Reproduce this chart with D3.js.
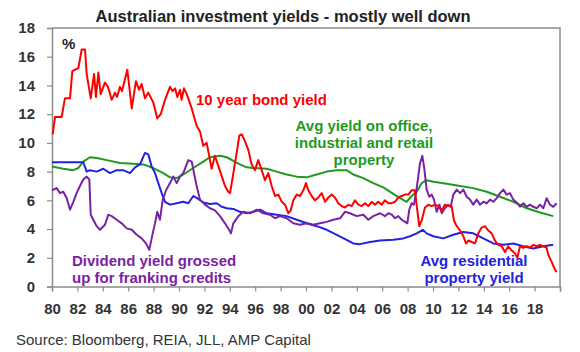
<!DOCTYPE html>
<html>
<head>
<meta charset="utf-8">
<script src="https://cdn.jsdelivr.net/npm/d3@7"></script>
<style>
  body { margin: 0; background: #fff; }
  svg { display: block; font-family: "Liberation Sans", Arial, sans-serif; }
</style>
</head>
<body>
<svg id="chart" width="580" height="352"></svg>
<script>
// [year, %]
const bondYield = [
  [1980.05, 10.6], [1980.24, 11.8], [1980.76, 11.8], [1981.02, 13.1], [1981.42, 13.1],
  [1981.6, 15.0], [1982.07, 15.2], [1982.34, 16.5], [1982.6, 16.5], [1982.73, 14.8],
  [1983.05, 13.1], [1983.31, 14.8], [1983.46, 13.2], [1983.65, 14.9], [1983.83, 13.4],
  [1984.17, 14.2], [1984.41, 13.9], [1984.7, 13.0], [1984.96, 13.5], [1985.12, 13.2],
  [1985.35, 13.9], [1985.51, 13.6], [1985.93, 15.1], [1986.28, 12.4], [1986.61, 14.3],
  [1986.85, 13.7], [1987.06, 14.1], [1987.32, 13.1], [1987.58, 13.5], [1987.98, 12.8],
  [1988.29, 11.7], [1988.56, 12.0], [1988.9, 13.0], [1989.29, 13.9], [1989.5, 13.6],
  [1989.69, 13.8], [1989.87, 13.2], [1990.08, 13.7], [1990.21, 13.0], [1990.39, 13.8],
  [1990.61, 13.4], [1991.0, 12.4], [1991.39, 11.2], [1991.65, 10.8], [1991.91, 9.8],
  [1992.18, 10.0], [1992.57, 8.2], [1992.83, 9.1], [1993.09, 8.4], [1993.36, 7.7],
  [1993.62, 7.0], [1993.88, 6.6], [1994.02, 6.5], [1994.28, 7.9], [1994.54, 9.3],
  [1994.75, 10.5], [1994.94, 10.6], [1995.2, 10.1], [1995.46, 9.5], [1995.72, 8.5],
  [1995.98, 8.1], [1996.24, 8.8], [1996.51, 8.1], [1996.77, 7.4], [1997.03, 7.9],
  [1997.3, 7.0], [1997.56, 6.3], [1997.82, 6.4], [1998.09, 5.9], [1998.35, 5.7],
  [1998.61, 5.1], [1998.8, 5.3], [1999.0, 6.0], [1999.27, 6.4], [1999.53, 6.3],
  [1999.79, 6.7], [2000.0, 7.2], [2000.18, 6.7], [2000.45, 6.3], [2000.71, 6.0],
  [2000.97, 6.2], [2001.24, 6.5], [2001.5, 5.9], [2001.76, 6.2], [2002.02, 6.4],
  [2002.28, 6.2], [2002.54, 5.8], [2002.81, 5.6], [2003.07, 5.5], [2003.33, 5.7],
  [2003.6, 5.6], [2003.86, 6.0], [2004.12, 5.7], [2004.39, 5.6], [2004.65, 5.8],
  [2004.91, 5.6], [2005.17, 5.9], [2005.43, 5.7], [2005.69, 5.9], [2005.96, 5.7],
  [2006.22, 6.0], [2006.48, 5.8], [2006.75, 5.8], [2007.01, 5.9], [2007.27, 6.2],
  [2007.54, 6.3], [2007.8, 6.4], [2008.06, 6.4], [2008.32, 6.7], [2008.58, 6.7],
  [2008.72, 5.6], [2008.92, 4.2], [2009.11, 4.6], [2009.37, 5.5], [2009.63, 5.7],
  [2009.9, 5.6], [2010.16, 5.7], [2010.42, 5.6], [2010.69, 5.3], [2010.94, 5.7],
  [2011.2, 5.6], [2011.47, 5.6], [2011.65, 4.6], [2011.87, 4.2], [2012.13, 3.9],
  [2012.39, 3.5], [2012.6, 3.0], [2012.78, 3.2], [2013.05, 3.1], [2013.31, 3.0],
  [2013.57, 3.7], [2013.83, 4.1], [2014.09, 4.2], [2014.35, 3.9], [2014.62, 3.7],
  [2014.88, 3.2], [2015.14, 2.9], [2015.41, 2.8], [2015.67, 2.4], [2015.93, 2.8],
  [2016.2, 2.5], [2016.46, 2.3], [2016.64, 2.0], [2016.85, 2.8], [2017.11, 2.7],
  [2017.38, 2.8], [2017.64, 2.7], [2017.9, 2.9], [2018.17, 2.8], [2018.43, 2.9],
  [2018.69, 2.8], [2018.95, 2.7], [2019.08, 2.2], [2019.35, 1.7], [2019.61, 1.15],
  [2019.74, 1.0]
];

const officeYield = [
  [1980.0, 8.35], [1980.89, 8.2], [1981.68, 8.1], [1982.07, 8.25], [1982.46, 8.7],
  [1982.99, 9.0], [1983.52, 8.95], [1984.31, 8.8], [1985.35, 8.6], [1986.4, 8.55],
  [1987.19, 8.5], [1987.98, 8.25], [1988.76, 7.9], [1989.29, 7.6], [1989.82, 7.55],
  [1990.34, 7.8], [1991.13, 8.25], [1991.91, 8.7], [1992.44, 9.0], [1993.23, 9.1],
  [1993.76, 9.0], [1994.28, 8.75], [1994.8, 8.5], [1995.33, 8.3], [1995.85, 8.25],
  [1996.91, 8.2], [1997.69, 8.0], [1998.48, 7.8], [1999.27, 7.65], [2000.06, 7.6],
  [2000.84, 7.8], [2001.63, 8.0], [2002.42, 8.1], [2003.2, 8.1], [2003.72, 7.8],
  [2004.51, 7.55], [2005.3, 7.2], [2006.09, 6.9], [2006.87, 6.45], [2007.4, 6.15],
  [2007.93, 5.9], [2008.32, 6.3], [2008.72, 6.6], [2009.11, 7.2], [2009.5, 7.4],
  [2010.02, 7.3], [2011.08, 7.15], [2012.13, 7.0], [2013.17, 6.85], [2014.23, 6.6],
  [2015.28, 6.25], [2016.32, 5.9], [2017.38, 5.45], [2018.43, 5.15], [2019.47, 4.9]
];

const residentialYield = [
  [1980.0, 8.65], [1982.46, 8.65], [1982.73, 8.0], [1982.99, 8.1], [1983.52, 8.0],
  [1984.04, 8.2], [1984.57, 7.9], [1985.09, 8.1], [1985.61, 8.1], [1986.14, 7.9],
  [1986.54, 8.3], [1986.93, 8.5], [1987.32, 9.3], [1987.58, 9.2], [1987.85, 8.35],
  [1988.11, 7.9], [1988.37, 7.2], [1988.64, 6.5], [1988.9, 5.9], [1989.29, 5.7],
  [1989.82, 5.8], [1990.34, 5.9], [1990.73, 5.8], [1991.13, 6.3], [1991.52, 6.1],
  [1991.91, 5.85], [1992.44, 5.75], [1992.97, 5.8], [1993.36, 5.55], [1993.76, 5.45],
  [1994.28, 5.4], [1994.8, 5.2], [1995.33, 5.1], [1995.85, 5.2], [1996.38, 5.35],
  [1996.91, 5.1], [1997.69, 5.0], [1998.48, 4.9], [1999.27, 4.65], [2000.06, 4.4],
  [2000.84, 4.2], [2001.63, 3.95], [2002.42, 3.6], [2003.2, 3.25], [2003.72, 3.0],
  [2004.25, 2.95], [2005.04, 3.1], [2005.83, 3.2], [2006.87, 3.25], [2007.66, 3.35],
  [2008.19, 3.5], [2008.72, 3.7], [2009.19, 3.95], [2009.5, 3.7], [2010.02, 3.5],
  [2010.81, 3.35], [2011.6, 3.6], [2012.39, 3.8], [2013.17, 3.7], [2013.96, 3.35],
  [2014.75, 3.0], [2015.54, 2.9], [2016.32, 3.0], [2017.11, 2.8], [2017.9, 2.65],
  [2018.69, 2.8], [2019.47, 2.9]
];

const dividendYield = [
  [1980.0, 6.7], [1980.37, 6.85], [1980.63, 6.5], [1980.89, 6.6], [1981.16, 6.15],
  [1981.42, 5.35], [1981.68, 5.9], [1981.94, 6.5], [1982.2, 7.0], [1982.46, 7.45],
  [1982.73, 7.65], [1982.94, 7.45], [1983.05, 5.0], [1983.25, 4.65], [1983.52, 4.2],
  [1983.78, 3.95], [1984.17, 4.3], [1984.43, 5.0], [1984.7, 4.9], [1985.09, 4.65],
  [1985.49, 4.4], [1985.88, 4.05], [1986.28, 3.95], [1986.67, 3.6], [1987.06, 3.35],
  [1987.4, 3.0], [1987.66, 2.55], [1987.93, 3.7], [1988.11, 4.4], [1988.29, 5.2],
  [1988.5, 4.65], [1988.72, 6.05], [1988.98, 6.7], [1989.29, 7.2], [1989.55, 7.65],
  [1989.82, 7.2], [1990.08, 7.65], [1990.34, 7.9], [1990.73, 8.8], [1991.0, 8.7],
  [1991.18, 7.9], [1991.39, 7.0], [1991.65, 6.05], [1992.05, 5.7], [1992.44, 5.45],
  [1992.83, 5.3], [1993.23, 4.9], [1993.62, 4.4], [1993.94, 3.95], [1994.09, 3.7],
  [1994.28, 4.4], [1994.67, 4.9], [1995.06, 5.2], [1995.59, 5.1], [1996.12, 5.35],
  [1996.64, 5.1], [1997.17, 5.0], [1997.56, 4.75], [1997.95, 4.9], [1998.48, 4.75],
  [1999.0, 4.4], [1999.53, 4.3], [2000.06, 4.4], [2000.57, 4.3], [2001.1, 4.4],
  [2001.63, 4.5], [2002.15, 4.65], [2002.68, 4.75], [2003.07, 5.2], [2003.46, 5.1],
  [2003.99, 4.9], [2004.51, 5.0], [2004.91, 4.65], [2005.3, 4.9], [2005.83, 5.1],
  [2006.22, 4.9], [2006.48, 5.1], [2006.75, 5.0], [2007.01, 4.75], [2007.27, 4.9],
  [2007.54, 4.65], [2007.8, 4.5], [2007.98, 4.4], [2008.13, 5.35], [2008.32, 5.8],
  [2008.5, 5.7], [2008.66, 6.5], [2008.84, 7.65], [2008.98, 8.6], [2009.16, 9.1],
  [2009.31, 8.25], [2009.5, 6.75], [2009.71, 6.25], [2009.9, 6.4], [2010.08, 6.05],
  [2010.29, 5.2], [2010.5, 5.7], [2010.69, 5.1], [2010.94, 5.45], [2011.2, 5.7],
  [2011.39, 5.55], [2011.6, 6.4], [2011.87, 6.75], [2012.13, 6.5], [2012.39, 6.75],
  [2012.65, 6.25], [2012.91, 6.05], [2013.17, 5.7], [2013.44, 6.05], [2013.7, 5.7],
  [2013.96, 5.9], [2014.23, 5.8], [2014.49, 6.05], [2014.75, 5.9], [2015.02, 6.15],
  [2015.28, 6.5], [2015.54, 6.75], [2015.8, 6.4], [2016.06, 6.5], [2016.32, 6.05],
  [2016.65, 5.8], [2016.85, 5.55], [2017.11, 5.8], [2017.38, 5.55], [2017.64, 5.7],
  [2017.9, 5.55], [2018.17, 5.45], [2018.43, 5.7], [2018.69, 5.45], [2018.95, 6.15],
  [2019.21, 5.7], [2019.47, 5.55], [2019.74, 5.8]
];

const xTicks = d3.range(1980, 2021, 2);
const yTicks = d3.range(0, 19, 2);

const plotLeft = 52, plotRight = 560, plotTop = 28, plotBottom = 286.5;

const svg = d3.select("#chart");

let x = d3.scaleLinear().domain([1980, 2020]).range([plotLeft, plotRight]);
let y = d3.scaleLinear().domain([0, 18]).range([plotBottom, plotTop]);

// frame (top + right)
svg.append("path")
  .attr("d", `M${plotLeft},${plotTop}H${plotRight}V${plotBottom}`)
  .attr("fill", "none")
  .attr("stroke", "#8c8c8c")
  .attr("stroke-width", 1.5);

let yAxis = svg.append("g")
  .attr("transform", `translate(${plotLeft},0)`)
  .call(d3.axisLeft(y).tickValues(yTicks).tickSize(5).tickPadding(12));

let xAxis = svg.append("g")
  .attr("transform", `translate(0,${plotBottom})`)
  .call(
    d3.axisBottom(x)
      .tickValues(xTicks)
      .tickSize(5)
      .tickPadding(12)
      .tickFormat((d) => (d < 2020 ? String(d).slice(2) : ""))
  );

for (let ax of [xAxis, yAxis]) {
  ax.select(".domain").attr("stroke", "#8c8c8c").attr("stroke-width", 1.5);
  ax.selectAll(".tick line").attr("stroke", "#8c8c8c").attr("stroke-width", 1.2);
  ax.selectAll(".tick text")
    .attr("fill", "#333")
    .style("font-size", "15px")
    .style("font-weight", "bold")
    .style("font-family", '"Liberation Sans", Arial, sans-serif');
}

let line = d3.line()
  .x((d) => x(d[0]))
  .y((d) => y(d[1]));

let series = [
  { data: officeYield, color: "#1e9a1e" },
  { data: residentialYield, color: "#2222e0" },
  { data: dividendYield, color: "#7a22a6" },
  { data: bondYield, color: "#ff0000" }
];

for (let s of series) {
  svg.append("path")
    .datum(s.data)
    .attr("d", line)
    .attr("fill", "none")
    .attr("stroke", s.color)
    .attr("stroke-width", 2)
    .attr("stroke-linejoin", "round");
}

// text
svg.append("text")
  .attr("x", 283)
  .attr("y", 22)
  .attr("text-anchor", "middle")
  .attr("fill", "#222")
  .style("font-size", "16.5px")
  .style("font-weight", "bold")
  .text("Australian investment yields - mostly well down");

svg.append("text")
  .attr("x", 62)
  .attr("y", 49)
  .attr("fill", "#222")
  .style("font-size", "15px")
  .style("font-weight", "bold")
  .text("%");

function label(lines, xPos, yPos, color, anchor) {
  let t = svg.append("text")
    .attr("fill", color)
    .attr("text-anchor", anchor)
    .style("font-size", "15px")
    .style("font-weight", "bold");
  lines.forEach((l, i) => {
    t.append("tspan").attr("x", xPos).attr("y", yPos + i * 17).text(l);
  });
}

label(["10 year bond yield"], 196, 105, "#ff0000", "start");
label(["Avg yield on office,", "industrial and retail", "property"], 364, 131, "#1e9a1e", "middle");
label(["Dividend yield grossed", "up for franking credits"], 72, 266, "#7a22a6", "start");
label(["Avg residential", "property yield"], 474, 266, "#2222e0", "middle");

svg.append("text")
  .attr("x", 16)
  .attr("y", 345)
  .attr("fill", "#333")
  .style("font-size", "15px")
  .text("Source: Bloomberg, REIA, JLL, AMP Capital");
</script>
</body>
</html>
